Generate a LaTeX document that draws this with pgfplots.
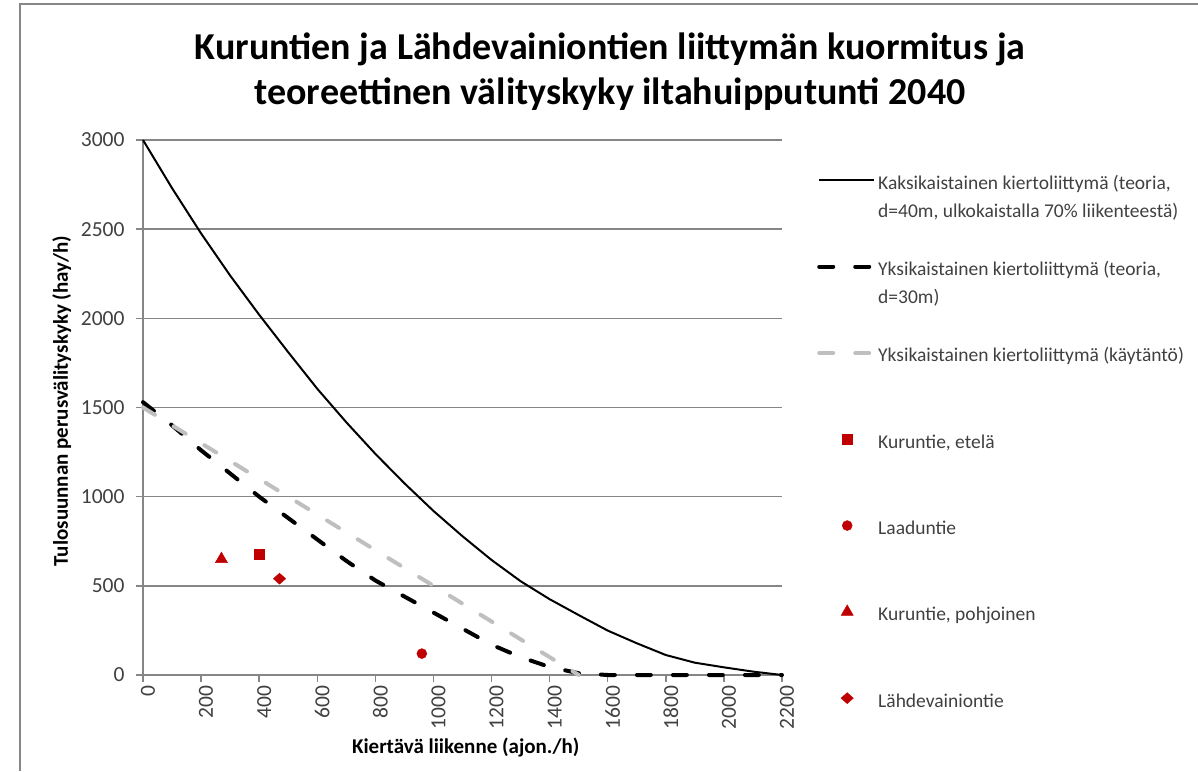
\documentclass[border=0pt]{standalone}
\usepackage{fontspec}
\setmainfont{Carlito}
\usepackage{pgfplots}
\pgfplotsset{compat=1.18}
\definecolor{axgray}{HTML}{868686}
\definecolor{txtgray}{HTML}{404040}
\definecolor{lgray}{HTML}{BFBFBF}
\definecolor{mred}{HTML}{C00000}
\pgfplotsset{
  lineleg/.style={legend image code/.code={\draw[##1, yshift=32pt] (0pt,0pt) -- (55pt,0pt);}},
  markleg/.style={legend image code/.code={\draw[mark repeat=2,mark phase=2,##1, yshift=32pt] plot coordinates {(0pt,0pt) (28pt,0pt) (56pt,0pt)};}},
}
\newcommand{\LE}[1]{\hspace*{2pt}#1}
\begin{document}
\begin{tikzpicture}[x=1pt,y=1pt]
\useasboundingbox (0,0) rectangle (1198,771);
\draw[axgray, line width=2pt] (20,0) -- (20,767) -- (1198,767);
\begin{axis}[
  at={(143pt,96pt)}, anchor=south west,
  scale only axis, width=639pt, height=535pt,
  xmin=0, xmax=2200, ymin=0, ymax=3000,
  xtick={0,200,...,2200}, ytick={0,500,...,3000},
  scaled ticks=false,
  /pgf/number format/1000 sep={},
  /pgf/number format/assume math mode=true,
  axis lines=left,
  axis line style={-, draw=axgray, line width=1.5pt},
  tick align=outside, major tick length=7pt,
  tick style={axgray, line width=1.5pt},
  ymajorgrids, grid style={axgray, line width=1.5pt},
  ticklabel style={font=\fontsize{21.5}{21.5}\selectfont, text=txtgray},
  xticklabel style={rotate=90, anchor=east, yshift=-5pt},
  yticklabel style={xshift=-8pt},
  clip=false,
  title={Kuruntien ja Lähdevainiontien liittymän kuormitus ja\\teoreettinen välityskyky iltahuipputunti 2040},
  title style={at={(axis description cs:0.731,1.116)}, anchor=center, align=center, font=\fontsize{38}{45}\selectfont\bfseries},
  xlabel={Kiertävä liikenne (ajon./h)},
  xlabel style={at={(axis description cs:0.505,-0.136)}, anchor=center, font=\fontsize{21}{24}\selectfont\bfseries},
  ylabel={Tulosuunnan perusvälityskyky (hay/h)},
  ylabel style={at={(axis description cs:-0.127,0.512)}, anchor=center, rotate=0, font=\fontsize{21}{24}\selectfont\bfseries},
  legend style={draw=none, fill=none, at={(axis description cs:1.0548,0.9458)}, anchor=north west,
    inner sep=0pt, row sep=0pt, column sep=0pt,
    nodes={inner sep=0pt, text=txtgray, text height=20pt, text depth=66.3pt}, font=\fontsize{19.5}{28}\selectfont},
  legend cell align=left,
]
\addplot[black, line width=2pt, lineleg] coordinates {
 (0,3000) (100,2730) (200,2476) (300,2240) (400,2020) (500,1810) (600,1605)
 (700,1417) (800,1240) (900,1075) (1000,920) (1100,778) (1200,645) (1300,526)
 (1400,425) (1500,336) (1600,249) (1700,178) (1800,112) (1900,69) (2000,43)
 (2100,19) (2200,0)};
\addlegendentry{\LE{\parbox[t]{330pt}{Kaksikaistainen kiertoliittymä (teoria,\\d=40m, ulkokaistalla 70\% liikenteestä)}}}
\addplot[black, line width=4pt, line cap=round, dash pattern=on 14pt off 22pt, lineleg] coordinates {
 (0,1530) (100,1400) (200,1260) (300,1130) (400,1000) (500,880) (600,760)
 (700,640) (800,530) (900,440) (1000,350) (1100,260) (1200,170) (1300,100)
 (1400,45) (1500,10) (1600,0) (1700,0) (1800,0) (1900,0) (2000,0) (2100,0) (2200,0)};
\addlegendentry{\LE{\parbox[t]{330pt}{Yksikaistainen kiertoliittymä (teoria,\\d=30m)}}}
\addplot[lgray, line width=4pt, line cap=round, dash pattern=on 14pt off 22pt, lineleg] coordinates {
 (0,1500) (500,1000) (1000,500) (1500,0)};
\addlegendentry{\LE{Yksikaistainen kiertoliittymä (käytäntö)}}
\addplot[only marks, mark=square*, mark size=5pt, color=mred, markleg] coordinates {(400,680)};
\addlegendentry{\LE{Kuruntie, etelä}}
\addplot[only marks, mark=*, mark size=5pt, color=mred, markleg] coordinates {(960,120)};
\addlegendentry{\LE{Laaduntie}}
\addplot[only marks, mark=triangle*, mark size=7pt, color=mred, markleg] coordinates {(270,650)};
\addlegendentry{\LE{Kuruntie, pohjoinen}}
\addplot[only marks, mark=diamond*, mark size=5.5pt, mark options={xscale=1.5}, color=mred, markleg] coordinates {(470,540)};
\addlegendentry{\LE{Lähdevainiontie}}
\end{axis}
\end{tikzpicture}
\end{document}
